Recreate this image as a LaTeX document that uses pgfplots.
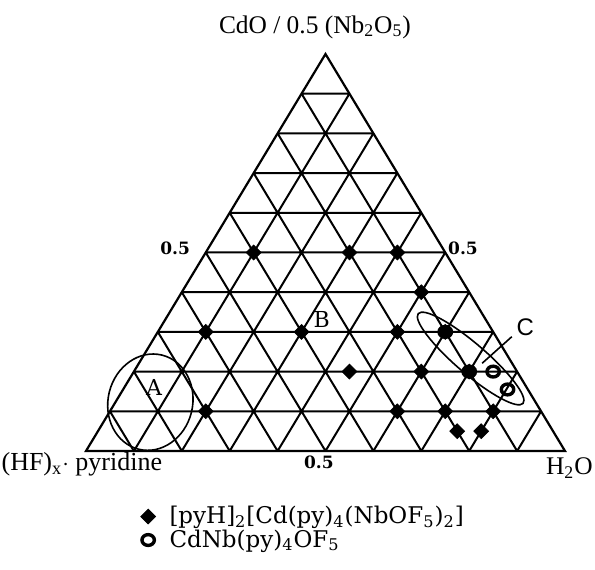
\documentclass[border=0pt]{standalone}
\usepackage{fontspec}
\setmainfont{Liberation Serif}
\newfontfamily\dejaserif{DejaVu Serif}
\newfontfamily\libsans{Liberation Sans}
\usepackage{pgfplots}
\pgfplotsset{compat=1.18}
\usetikzlibrary{shapes.geometric}

\begin{document}
\begin{tikzpicture}
\begin{axis}[
  scale only axis, width=297.5pt, height=284.5pt,
  xmin=-1.795, xmax=10.626, ymin=-2.972, ymax=11.36,
  hide axis, clip=false,
  legend style={at={(axis cs:1.136,-1.383)}, anchor=north west,
    draw=none, fill=none, inner sep=0pt, row sep=1.5pt, column sep=7pt,
    font=\dejaserif\fontsize{11.5}{13}\selectfont,
    nodes={inner sep=0pt}},
  legend cell align=left,
  legend image code/.code={\draw[#1] plot coordinates {(0pt,0pt)};},
]
% frame of the picture
\path (axis cs:-1.795,-2.972) rectangle (axis cs:10.626,11.36);

% triangle outline
\addplot[black, line width=1.1pt, forget plot, mark=none]
  coordinates {(0,0)(10,0)(5,10)} -- cycle;
% grid (10 divisions)
\addplot[black, line width=1pt, forget plot, mark=none, unbounded coords=jump]
  coordinates {
  (0.5,1)(9.5,1) (nan,nan) (1,2)(9,2) (nan,nan) (1.5,3)(8.5,3) (nan,nan)
  (2,4)(8,4) (nan,nan) (2.5,5)(7.5,5) (nan,nan) (3,6)(7,6) (nan,nan)
  (3.5,7)(6.5,7) (nan,nan) (4,8)(6,8) (nan,nan) (4.5,9)(5.5,9) (nan,nan)
  (1,0)(5.5,9) (nan,nan) (2,0)(6,8) (nan,nan) (3,0)(6.5,7) (nan,nan)
  (4,0)(7,6) (nan,nan) (5,0)(7.5,5) (nan,nan) (6,0)(8,4) (nan,nan)
  (7,0)(8.5,3) (nan,nan) (8,0)(9,2) (nan,nan) (9,0)(9.5,1) (nan,nan)
  (1,0)(0.5,1) (nan,nan) (2,0)(1,2) (nan,nan) (3,0)(1.5,3) (nan,nan)
  (4,0)(2,4) (nan,nan) (5,0)(2.5,5) (nan,nan) (6,0)(3,6) (nan,nan)
  (7,0)(3.5,7) (nan,nan) (8,0)(4,8) (nan,nan) (9,0)(4.5,9)
  };

% [pyH]2[Cd(py)4(NbOF5)2]
\addplot[only marks, mark=square*, mark size=2.6pt,
  mark options={rotate=45, fill=black, draw=black}]
  coordinates {
  (3.5,5)(5.5,5)(6.5,5)
  (7,4)
  (2.5,3)(4.5,3)(6.5,3)(7.5,3)
  (5.5,2)(7,2)(8,2)
  (2.5,1)(6.5,1)(7.5,1)(8.5,1)
  (7.75,0.5)(8.25,0.5)
  };
\addlegendentry{[pyH]\textsubscript{2}[Cd(py)\textsubscript{4}(NbOF\textsubscript{5})\textsubscript{2}]}

% CdNb(py)4OF5
\addplot[only marks, mark=o, mark size=2.7pt,
  mark options={line width=1.7pt, xscale=1.15, draw=black}]
  coordinates {(7.5,3)(8,2)(8.5,2)(8.8,1.55)};
\addlegendentry{CdNb(py)\textsubscript{4}OF\textsubscript{5}}

% regions
\node[draw, ellipse, line width=0.8pt, minimum width=42.3pt, minimum height=48.5pt,
  inner sep=0pt, rotate=-14] at (axis cs:1.344,1.23) {};
\node[draw, ellipse, line width=0.8pt, minimum width=69pt, minimum height=15pt,
  inner sep=0pt, rotate=-40.6] at (axis cs:8.03,2.33) {};
\draw[line width=0.8pt] (axis cs:8.89,2.88) -- (axis cs:8.27,2.21);

\node[font=\dejaserif\fontsize{11}{13}\selectfont] at (axis cs:1.42,1.61) {A};
\node[font=\dejaserif\fontsize{11}{13}\selectfont] at (axis cs:4.92,3.32) {B};
\node[font=\libsans\fontsize{12}{14}\selectfont] at (axis cs:9.17,3.13) {C};

% apex and scale labels
\node[font=\fontsize{12.7}{15}\selectfont] at (axis cs:4.78,10.68)
  {CdO / 0.5 (Nb\textsubscript{2}O\textsubscript{5})};
\node[inner sep=0pt, anchor=base west, font=\fontsize{13}{15}\selectfont]
  at (axis cs:-1.77,-0.5) {(HF)\textsubscript{x}$\cdot$ pyridine};
\node[inner sep=0pt, anchor=base east, font=\fontsize{12.7}{15}\selectfont]
  at (axis cs:10.585,-0.6) {H\textsubscript{2}O};
\node[font=\dejaserif\bfseries\fontsize{8.5}{10}\selectfont] at (axis cs:1.86,5.1) {0.5};
\node[font=\dejaserif\bfseries\fontsize{8.5}{10}\selectfont] at (axis cs:7.87,5.1) {0.5};
\node[font=\dejaserif\bfseries\fontsize{8.5}{10}\selectfont] at (axis cs:4.86,-0.28) {0.5};
\end{axis}
\end{tikzpicture}
\end{document}
